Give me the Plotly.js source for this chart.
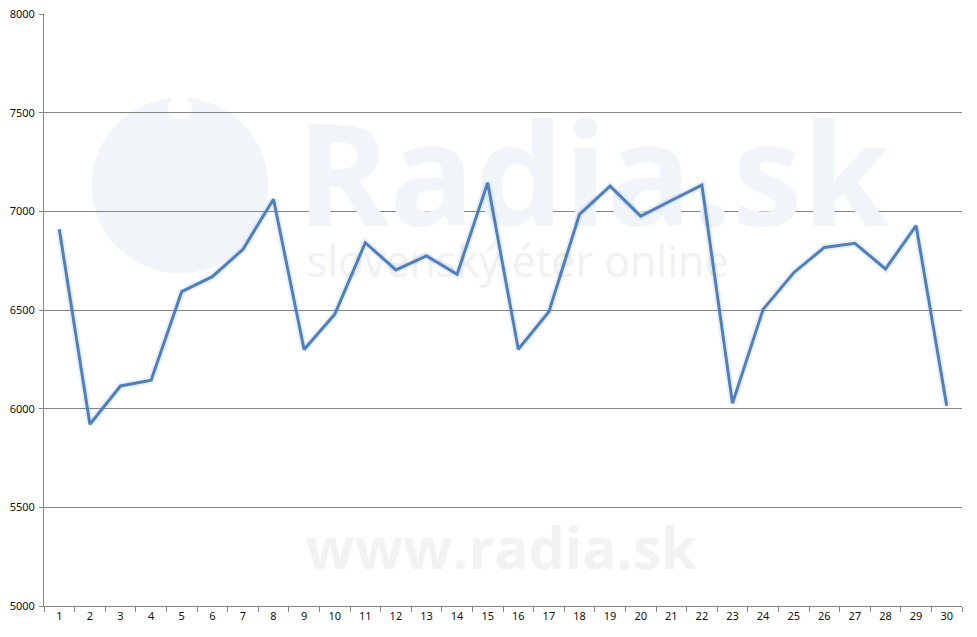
<!DOCTYPE html>
<html>
<head>
<meta charset="utf-8">
<script src="https://cdn.plot.ly/plotly-3.0.1.min.js"></script>
<style>
html,body{margin:0;padding:0;background:#fff;}
#chart{width:977px;height:637px;}
</style>
</head>
<body>
<div id="chart"></div>
<script>
const days = ["1","2","3","4","5","6","7","8","9","10","11","12","13","14","15","16","17","18","19","20","21","22","23","24","25","26","27","28","29","30"];
const listeners = [6909,5921,6115,6144,6593,6669,6807,7061,6300,6478,6841,6703,6774,6681,7145,6301,6491,6985,7128,6976,7055,7133,6027,6503,6689,6817,6838,6708,6927,6015];
const yTicks = [5000,5500,6000,6500,7000,7500,8000];
const watermarkTexts = ["Radia.sk", "slovenský éter online", "www.radia.sk"];

const traces = [
  // faint watermark (drawn beneath the data)
  {x: [0.598], y: [0.702], text: [watermarkTexts[0]], type: 'scatter', mode: 'text',
   textfont: {family: 'Open Sans, sans-serif', size: 141, color: '#f1f5f9', weight: 'bold'},
   xaxis: 'x', yaxis: 'y', hoverinfo: 'skip', showlegend: false},
  {x: [0.516], y: [0.574], text: [watermarkTexts[1]], type: 'scatter', mode: 'text',
   textfont: {family: 'Open Sans, sans-serif', size: 43, color: '#f1f1f1'},
   xaxis: 'x', yaxis: 'y', hoverinfo: 'skip', showlegend: false},
  {x: [0.498], y: [0.086], text: [watermarkTexts[2]], type: 'scatter', mode: 'text',
   textfont: {family: 'Open Sans, sans-serif', size: 57, color: '#f2f2f2', weight: 'bold'},
   xaxis: 'x', yaxis: 'y', hoverinfo: 'skip', showlegend: false},
  // data line
  {x: days, y: listeners, type: 'scatter', mode: 'lines', xaxis: 'x2', yaxis: 'y2',
   line: {color: 'rgba(79,129,189,0.12)', width: 7}, hoverinfo: 'skip', showlegend: false},
  {x: days, y: listeners, type: 'scatter', mode: 'lines', xaxis: 'x2', yaxis: 'y2',
   line: {color: '#4f7fbd', width: 3}, showlegend: false}
];

const layout = {
  width: 977, height: 637,
  margin: {l: 44, r: 15, t: 14, b: 31},
  paper_bgcolor: '#ffffff',
  plot_bgcolor: 'rgba(0,0,0,0)',
  font: {family: 'Noto Sans, Open Sans, sans-serif', size: 11, color: '#111'},
  showlegend: false,
  xaxis: {range: [0, 1], visible: false, fixedrange: true},
  yaxis: {range: [0, 1], visible: false, fixedrange: true},
  xaxis2: {
    overlaying: 'x', side: 'bottom', anchor: 'y2',
    type: 'category', range: [-0.5, 29.5], tickson: 'boundaries', ticks: 'outside', ticklen: 5,
    tickcolor: '#868686', showline: true, linecolor: '#868686', linewidth: 1,
    showgrid: false, zeroline: false, fixedrange: true,
    tickfont: {size: 11, color: '#111'}
  },
  yaxis2: {
    overlaying: 'y', side: 'left', anchor: 'x2',
    range: [5000, 8000], tickvals: yTicks, ticktext: yTicks.map(String),
    ticks: 'outside', ticklen: 4, tickcolor: '#868686',
    showline: true, linecolor: '#868686', linewidth: 1,
    showgrid: true, gridcolor: '#868686', gridwidth: 1, zeroline: false,
    tickfont: {size: 11, color: '#111'}, ticklabelstandoff: 2
  },
  shapes: [
    {type: 'circle', xref: 'paper', yref: 'paper', layer: 'below',
     x0: 0.052, x1: 0.244, y0: 0.562, y1: 0.859,
     fillcolor: '#f1f5f9', line: {width: 0}},
    {type: 'circle', xref: 'paper', yref: 'paper', layer: 'below',
     x0: 0.135, x1: 0.161, y0: 0.822, y1: 0.862,
     fillcolor: '#ffffff', line: {width: 0}}
  ]
};

Plotly.newPlot('chart', traces, layout, {displayModeBar: false, staticPlot: true});
</script>
</body>
</html>
